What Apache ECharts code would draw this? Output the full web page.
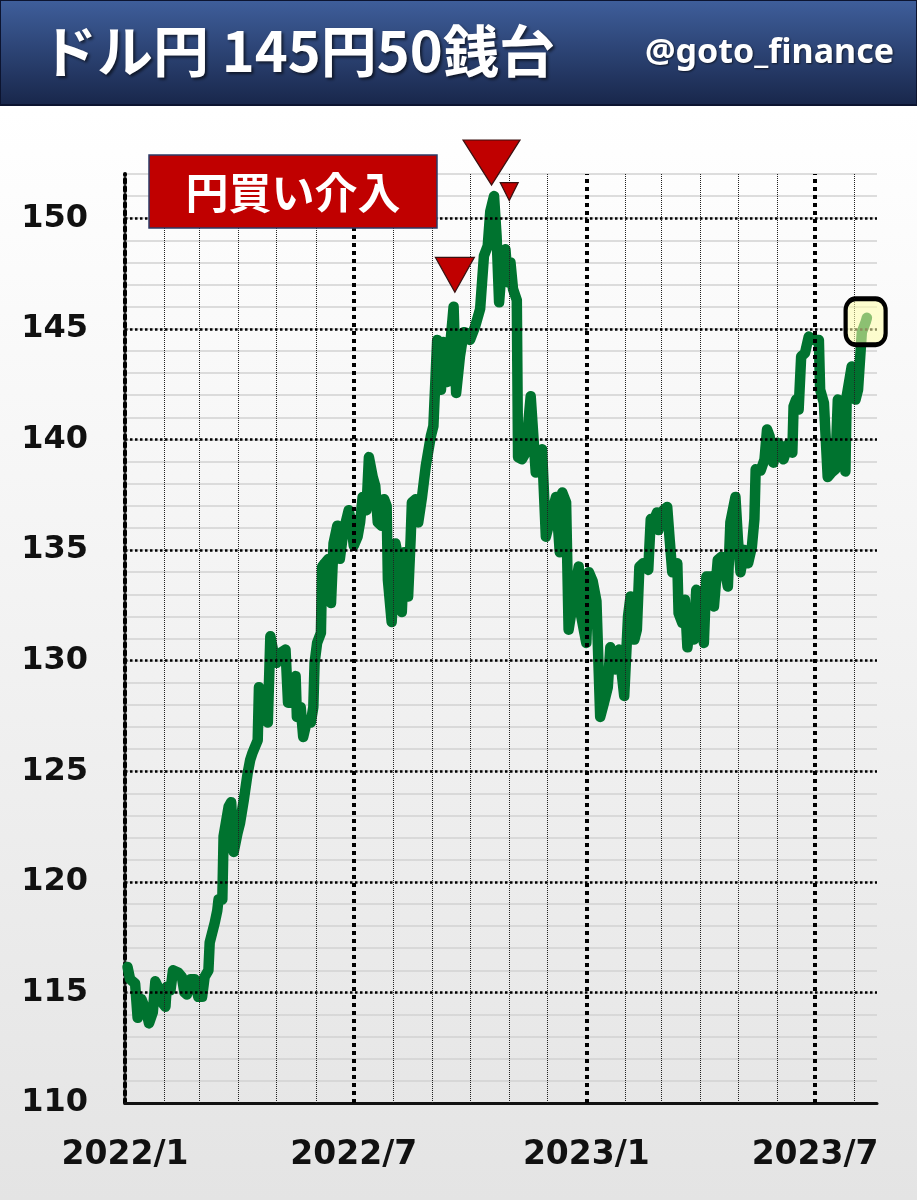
<!DOCTYPE html>
<html>
<head>
<meta charset="utf-8">
<script src="https://cdn.jsdelivr.net/npm/echarts@6/dist/echarts.min.js"></script>
<style>
  html, body { margin: 0; padding: 0; }
  #chart {
    width: 917px;
    height: 1200px;
    background: linear-gradient(to bottom, #ffffff 0px, #ffffff 110px, #e4e4e4 1200px);
  }
</style>
</head>
<body>
<div id="chart"></div>
<script>
// USD/JPY daily close
const dates = [
  '2022-01-03','2022-01-05','2022-01-09','2022-01-11','2022-01-14','2022-01-18','2022-01-20','2022-01-23','2022-01-25','2022-01-27','2022-01-31',
  '2022-02-02','2022-02-03','2022-02-06','2022-02-08','2022-02-12','2022-02-15','2022-02-17','2022-02-19','2022-02-22','2022-02-25','2022-02-28',
  '2022-03-03','2022-03-05','2022-03-08','2022-03-09','2022-03-13','2022-03-15','2022-03-16','2022-03-19','2022-03-20','2022-03-24','2022-03-26','2022-03-28','2022-03-31',
  '2022-04-02','2022-04-05','2022-04-08','2022-04-10','2022-04-12','2022-04-16','2022-04-17','2022-04-20','2022-04-22','2022-04-24','2022-04-26','2022-04-28',
  '2022-05-01','2022-05-04','2022-05-08','2022-05-10','2022-05-13','2022-05-16','2022-05-17','2022-05-20','2022-05-22','2022-05-25','2022-05-28','2022-05-30','2022-05-31',
  '2022-06-02','2022-06-05','2022-06-06','2022-06-08','2022-06-11','2022-06-13','2022-06-15','2022-06-18','2022-06-20','2022-06-22','2022-06-24','2022-06-27','2022-06-29',
  '2022-07-01','2022-07-04','2022-07-06','2022-07-08','2022-07-11','2022-07-13','2022-07-16','2022-07-18','2022-07-20','2022-07-23','2022-07-25','2022-07-27','2022-07-28','2022-07-31',
  '2022-08-03','2022-08-05','2022-08-08','2022-08-10','2022-08-13','2022-08-15','2022-08-16','2022-08-19','2022-08-21','2022-08-24','2022-08-27','2022-08-31',
  '2022-09-02','2022-09-05','2022-09-08','2022-09-10','2022-09-13','2022-09-15','2022-09-18','2022-09-20','2022-09-23','2022-09-26','2022-09-29',
  '2022-10-01','2022-10-05','2022-10-09','2022-10-12','2022-10-15','2022-10-17','2022-10-20','2022-10-22','2022-10-24','2022-10-27','2022-10-29','2022-10-31',
  '2022-11-02','2022-11-04','2022-11-07','2022-11-08','2022-11-11','2022-11-14','2022-11-18','2022-11-22','2022-11-27','2022-11-30',
  '2022-12-04','2022-12-08','2022-12-11','2022-12-13','2022-12-16','2022-12-18','2022-12-23','2022-12-26','2022-12-28',
  '2023-01-01','2023-01-03','2023-01-06','2023-01-09','2023-01-12','2023-01-15','2023-01-18','2023-01-20','2023-01-24','2023-01-27','2023-01-31',
  '2023-02-03','2023-02-05','2023-02-08','2023-02-10','2023-02-12','2023-02-15','2023-02-19','2023-02-21','2023-02-23','2023-02-26','2023-02-27',
  '2023-03-03','2023-03-06','2023-03-08','2023-03-10','2023-03-14','2023-03-15','2023-03-18','2023-03-20','2023-03-22','2023-03-25','2023-03-27','2023-03-29',
  '2023-04-01','2023-04-04','2023-04-06','2023-04-10','2023-04-12','2023-04-15','2023-04-18','2023-04-20','2023-04-23','2023-04-25','2023-04-29',
  '2023-05-01','2023-05-03','2023-05-06','2023-05-09','2023-05-12','2023-05-14','2023-05-15','2023-05-19','2023-05-22','2023-05-24','2023-05-26','2023-05-29',
  '2023-06-01','2023-06-04','2023-06-06','2023-06-10','2023-06-13','2023-06-14','2023-06-16','2023-06-18','2023-06-20','2023-06-23','2023-06-26','2023-06-30',
  '2023-07-04','2023-07-05','2023-07-08','2023-07-11','2023-07-14','2023-07-17','2023-07-19','2023-07-23','2023-07-25','2023-07-26','2023-07-30',
  '2023-08-02','2023-08-04','2023-08-07','2023-08-10','2023-08-11'
];

const usdjpy = [
  116.15, 115.6, 115.4, 113.85, 114.7, 114.1, 113.6, 114.1, 115.5, 115.25, 114.5,
  114.35, 115.25, 115.1, 116.0, 115.9, 115.7, 115.0, 114.9, 115.6, 115.6, 114.8,
  114.8, 115.7, 116.0, 117.25, 118.15, 118.7, 119.2, 119.2, 122.05, 123.4, 123.6, 121.35, 122.2,
  122.65, 123.7, 124.9, 125.5, 125.85, 126.4, 128.8, 127.8, 127.3, 127.2, 131.1, 130.5,
  129.9, 130.35, 130.5, 128.1, 128.1, 129.3, 127.45, 127.9, 126.55, 127.3, 127.2, 127.9, 129.9,
  130.8, 131.25, 134.25, 134.4, 134.6, 132.6, 135.3, 136.1, 134.6, 135.5, 136.1, 136.8, 136.25,
  135.2, 135.6, 136.25, 137.4, 136.8, 139.2, 138.3, 137.9, 136.25, 136.1, 137.3, 137.0, 133.65, 131.75,
  135.3, 134.7, 132.2, 134.9, 132.9, 135.5, 137.15, 137.3, 136.25, 137.4, 138.8, 140.15,
  140.6, 144.5, 142.25, 144.4, 142.6, 144.05, 146.0, 142.1, 143.75, 144.85, 144.8,
  144.5, 145.1, 145.9, 148.3, 148.75, 150.3, 151.0, 149.2, 146.2, 148.45, 148.6, 147.1,
  148.0, 146.8, 146.3, 139.2, 139.1, 139.4, 141.95, 138.5, 139.55, 135.6,
  136.5, 137.4, 134.9, 137.6, 137.15, 131.4, 133.2, 134.25, 132.0,
  130.8, 134.0, 133.6, 132.7, 127.45, 128.1, 128.8, 130.6, 129.6, 130.5, 128.4,
  132.0, 132.9, 130.95, 131.4, 134.25, 134.4, 134.1, 136.4, 136.3, 136.7, 135.9,
  136.8, 136.95, 135.45, 134.0, 134.4, 132.15, 131.7, 132.75, 130.6, 132.15, 130.95, 133.2,
  133.0, 130.8, 133.8, 133.8, 132.45, 134.55, 134.7, 134.25, 133.35, 136.25, 137.4,
  135.45, 134.0, 135.0, 134.4, 135.15, 136.4, 138.65, 138.6, 139.1, 140.45, 140.15, 138.95,
  139.85, 139.7, 139.1, 139.8, 139.4, 141.5, 141.8, 141.35, 143.75, 143.9, 144.65, 144.5,
  144.5, 142.25, 141.65, 138.3, 138.5, 138.65, 141.8, 141.7, 138.55, 141.95, 143.3,
  141.8, 142.25, 144.85, 145.3, 145.5
];

// axis settings
const xStart = '2022-01-01';
const xEnd = '2023-08-19';
const xLabelDates = ['2022-01-01', '2022-07-01', '2023-01-01', '2023-07-01'];
const yMin = 110, yMax = 152;
const yMajorTicks = [115, 120, 125, 130, 135, 140, 145, 150];

// annotations: intervention markers (tip of triangle) and latest-rate box
const interventionDates = ['2022-09-19', '2022-10-18', '2022-11-01'];
const interventionTips = [146.65, 151.5, 150.8];
const interventionSizes = [[39, 35], [57, 45], [18, 18]];
const latestDate = '2023-08-10';
const latestLevel = 145.32;

const toTime = (s) => {
  const [y, m, d] = s.split('-').map(Number);
  return new Date(y, m - 1, d).getTime();
};

// month boundaries for vertical grid lines
const monthLines = [];
for (let y = 2022, m = 2; y < 2023 || (y === 2023 && m <= 8); m++) {
  if (m > 12) { m = 1; y++; }
  monthLines.push({ y, m });
}

const chart = echarts.init(document.getElementById('chart'));

const labelFont = 'DejaVu Sans';
const jpFont = '"Noto Sans CJK JP", sans-serif';

const option = {
  animation: false,
  backgroundColor: 'transparent',
  title: [
    {
      text: 'ドル円 145円50銭台',
      left: 36,
      top: 18,
      textStyle: {
        color: '#fff', fontSize: 56, fontWeight: 'bold', fontFamily: jpFont,
        textShadowColor: 'rgba(0,0,0,0.6)', textShadowBlur: 3, textShadowOffsetX: 2, textShadowOffsetY: 2
      }
    },
    {
      text: '@goto_finance',
      right: 18,
      top: 31,
      textStyle: {
        color: '#fff', fontSize: 34, fontWeight: 'bold', fontFamily: '"Noto Sans", sans-serif',
        textShadowColor: 'rgba(0,0,0,0.6)', textShadowBlur: 2, textShadowOffsetX: 1, textShadowOffsetY: 1
      }
    }
  ],
  graphic: [
    {
      type: 'rect',
      z: -10,
      shape: { x: 0, y: 0, width: 917, height: 105 },
      style: {
        fill: new echarts.graphic.LinearGradient(0, 0, 0, 1, [
          { offset: 0, color: '#3f5f9c' },
          { offset: 1, color: '#18264a' }
        ]),
        stroke: '#0c1430',
        lineWidth: 2
      }
    },
    {
      type: 'rect',
      zlevel: 1,
      z: 100,
      shape: { x: 149, y: 155, width: 288, height: 73 },
      style: { fill: '#c00000', stroke: '#2b3a66', lineWidth: 1.5 }
    },
    {
      type: 'text',
      zlevel: 1,
      z: 101,
      x: 293,
      y: 193,
      style: {
        text: '円買い介入',
        fill: '#fff',
        font: 'bold 43px "Noto Sans CJK JP"',
        align: 'center',
        verticalAlign: 'middle'
      }
    }
  ],
  grid: {
    left: 125,
    right: 40,
    top: 174,
    bottom: 97
  },
  xAxis: {
    type: 'value',
    min: toTime(xStart),
    max: toTime(xEnd),
    axisLine: { show: true, onZero: false, lineStyle: { color: '#111', width: 3 } },
    axisTick: { show: false },
    splitLine: { show: false },
    axisLabel: {
      customValues: xLabelDates.map(toTime),
      hideOverlap: false,
      showMinLabel: true,
      margin: 36,
      color: '#111',
      fontSize: 33,
      fontWeight: 'bold',
      fontFamily: labelFont,
      formatter: (v) => {
        const d = new Date(v);
        return d.getFullYear() + '/' + (d.getMonth() + 1);
      }
    }
  },
  yAxis: {
    type: 'value',
    min: yMin,
    max: yMax,
    interval: 1,
    axisLine: { show: true, lineStyle: { color: '#000', width: 4, type: 'dotted' } },
    axisTick: { show: false },
    axisLabel: {
      margin: 37,
      color: '#111',
      fontSize: 32,
      fontWeight: 'bold',
      fontFamily: labelFont,
      padding: [0, 0, 10, 0],
      formatter: (v) => (v % 5 === 0 && v < yMax ? String(v) : '')
    },
    splitLine: { show: true, lineStyle: { color: '#d2d2d2', width: 1.5 } }
  },
  series: [
    {
      // grid lines
      name: 'grid',
      type: 'line',
      data: [],
      z: 1,
      silent: true,
      markLine: {
        silent: true,
        symbol: 'none',
        label: { show: false },
        animation: false,
        data: [
          ...monthLines.map(({ y, m }) => ({
            xAxis: new Date(y, m - 1, 1).getTime(),
            lineStyle: (m === 1 || m === 7)
              ? { color: '#000', width: 4, type: 'dotted' }
              : { color: '#222', width: 1, type: 'dotted' }
          })),
          ...yMajorTicks.map((v) => ({
            yAxis: v,
            lineStyle: { color: '#000', width: 2.5, type: 'dotted' }
          }))
        ]
      }
    },
    {
      name: 'ドル円',
      type: 'line',
      z: 3,
      showSymbol: false,
      data: dates.map((d, i) => [toTime(d), usdjpy[i]]),
      lineStyle: { color: '#00732f', width: 10.5, cap: 'round', join: 'round' }
    },
    {
      name: 'intervention',
      type: 'line',
      data: [],
      z: 4,
      markPoint: {
        animation: false,
        label: { show: false },
        data: interventionDates.map((d, i) => ({
          coord: [toTime(d), interventionTips[i]],
          symbol: 'triangle',
          symbolRotate: 180,
          symbolSize: interventionSizes[i],
          symbolOffset: [0, -interventionSizes[i][1] / 2],
          itemStyle: { color: '#c00000', borderColor: '#3a1010', borderWidth: 1.2 }
        }))
      }
    },
    {
      name: 'latest',
      type: 'line',
      data: [],
      z: 5,
      markPoint: {
        animation: false,
        label: { show: false },
        data: [{
          coord: [toTime(latestDate), latestLevel],
          symbol: 'roundRect',
          symbolSize: [40, 46],
          itemStyle: { color: 'rgba(255,255,170,0.55)', borderColor: '#000', borderWidth: 4.5 }
        }]
      }
    }
  ]
};

chart.setOption(option);
</script>
</body>
</html>
